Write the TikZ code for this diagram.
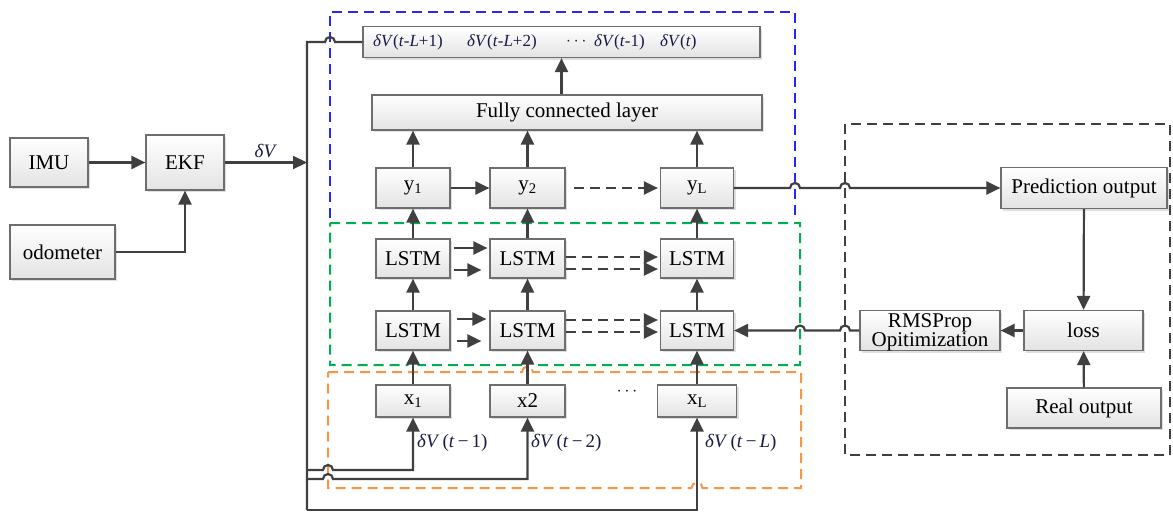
\documentclass[tikz,border=0pt]{standalone}
\usepackage{fontspec}
\setmainfont{Liberation Serif}
\usetikzlibrary{arrows.meta, shadows, calc}
\definecolor{lineclr}{RGB}{64,64,64}
\definecolor{boxclr}{RGB}{110,110,110}
\definecolor{frameblue}{RGB}{40,40,245}
\definecolor{framegreen}{RGB}{0,176,80}
\definecolor{frameorange}{RGB}{247,150,70}
\definecolor{labelclr}{RGB}{25,25,70}

\begin{document}
\begin{tikzpicture}[x=1pt, y=1pt,
        box/.style={rectangle, draw=boxclr, line width=1.2pt, top color=white, bottom color=gray!22, inner sep=0pt, font=\fontsize{21}{24}\selectfont, drop shadow={opacity=0.25, shadow xshift=2pt, shadow yshift=-2pt}},
        arrow/.style={-{Triangle[length=14pt, width=13pt]}, draw=lineclr, line width=2.2pt},
        dasharrow/.style={arrow, dash pattern=on 10pt off 6pt},
        link/.style={draw=lineclr, line width=2.2pt},
        frame/.style={line width=2pt, dash pattern=on 10pt off 6pt},
        dvlabel/.style={font=\fontsize{17}{20}\selectfont, text=labelclr, inner sep=0pt}
    ]
        \useasboundingbox (0,0) rectangle (1173,-512);

        % dashed frames
        \draw[frame, frameblue] (330,-218) -- (330,-12) -- (795,-12) -- (795,-218);
        \draw[frame, framegreen] (330,-223) -- (800,-223) -- (800,-365) -- (533,-365) arc[start angle=0, end angle=180, radius=5.5] -- (418.5,-365) arc[start angle=0, end angle=180, radius=5.5] -- (330,-365) -- cycle;
        \draw[frame, frameorange] (328,-372) -- (522,-372) arc[start angle=180, end angle=0, radius=5.5] -- (801,-372) -- (801,-488) -- (702.5,-488) arc[start angle=0, end angle=180, radius=5.5] -- (328,-488) -- cycle;
        \draw[frame, lineclr] (845,-124) rectangle (1170,-455);

        % EKF front end
        \node[box, minimum width=78, minimum height=49] (imu) at (49,-162.5) {IMU};
        \node[box, minimum width=78, minimum height=55] (ekf) at (185,-162.5) {EKF};
        \node[box, minimum width=105, minimum height=54] (odo) at (62.5,-252) {odometer};

        \coordinate (bustop) at (307,-42);
        \coordinate (busbot) at (307,-510);
        \coordinate (b1) at (307,-470);
        \coordinate (b2) at (307,-479);

        \draw[arrow] (imu) -- (ekf);
        \draw[arrow] (odo) -| (ekf);
        \draw[arrow] (ekf.east) -- (ekf.east -| bustop) node[midway, above=4pt, dvlabel, font=\fontsize{19}{22}\selectfont] {\textit{δV}};

        % output sequence
        \node[box, minimum width=397, minimum height=31] (top) at (561.5,-42) {};
        \node[dvlabel, anchor=west] (o1) at (373,-42) {\textit{δV}(\textit{t}-\textit{L}+1)};
        \node[dvlabel, anchor=west] (o2) at (467,-42) {\textit{δV}(\textit{t}-\textit{L}+2)};
        \node[dvlabel, anchor=west] (o3) at (566,-42) {$\cdots$};
        \node[dvlabel, anchor=west] (o4) at (594,-42) {\textit{δV}(\textit{t}-1)};
        \node[dvlabel, anchor=west] (o5) at (660,-42) {\textit{δV}(\textit{t})};

        \node[box, minimum width=390, minimum height=35] (fc) at (567,-112.5) {Fully connected layer};

        % unrolled network
        \node[box, minimum width=74, minimum height=40] (y1) at (413,-188) {y\textsubscript{1}};
        \node[box, minimum width=75, minimum height=40] (y2) at (527.5,-188) {y\textsubscript{2}};
        \node[box, minimum width=73, minimum height=40] (yL) at (697,-188) {y\textsubscript{L}};

        \node[box, minimum width=74, minimum height=39] (la1) at (413,-258.5) {LSTM};
        \node[box, minimum width=75, minimum height=39] (la2) at (527.5,-258.5) {LSTM};
        \node[box, minimum width=73, minimum height=39] (laL) at (697,-258.5) {LSTM};

        \node[box, minimum width=74, minimum height=39] (lb1) at (413,-330.5) {LSTM};
        \node[box, minimum width=75, minimum height=39] (lb2) at (527.5,-330.5) {LSTM};
        \node[box, minimum width=73, minimum height=39] (lbL) at (697,-330.5) {LSTM};

        \node[box, minimum width=74, minimum height=32] (x1) at (413,-401) {x\textsubscript{1}};
        \node[box, minimum width=75, minimum height=32] (x2) at (527.5,-401) {x2};
        \node[box, minimum width=79, minimum height=32] (xL) at (697,-401) {x\textsubscript{L}};
        \node[font=\fontsize{17}{20}\selectfont] (xdots) at (627,-392) {$\cdots$};

        \foreach \c in {1,2,L} {
            \draw[arrow] (x\c) -- (lb\c);
            \draw[arrow] (lb\c) -- (la\c);
            \draw[arrow] (la\c) -- (y\c);
            \draw[arrow] (y\c.north) -- (y\c.north |- fc.south);
        }
        \draw[arrow] (top.south |- fc.north) -- (top.south);

        \draw[arrow] (y1) -- (y2);
        \draw[dasharrow] ([xshift=8]y2.east) -- ([xshift=-2]yL.west);

        \draw[arrow] ([shift={(3,10.5)}]la1.east) -- ([shift={(-2,10.5)}]la2.west);
        \draw[arrow] ([shift={(3,-11.5)}]la1.east) -- ([shift={(-8,-11.5)}]la2.west);
        \draw[dasharrow] ([shift={(0,1.5)}]la2.east) -- ([shift={(-2,1.5)}]laL.west);
        \draw[dasharrow] ([shift={(0,-10.5)}]la2.east) -- ([shift={(-2,-10.5)}]laL.west);

        \draw[arrow] ([shift={(6,11.5)}]lb1.east) -- ([shift={(-3,11.5)}]lb2.west);
        \draw[arrow] ([shift={(6,-10.5)}]lb1.east) -- ([shift={(-8,-10.5)}]lb2.west);
        \draw[dasharrow] ([shift={(0,10.5)}]lb2.east) -- ([shift={(-2,10.5)}]lbL.west);
        \draw[dasharrow] ([shift={(0,-1.5)}]lb2.east) -- ([shift={(-2,-1.5)}]lbL.west);

        % input bus
        \draw[link] (busbot) -- (bustop) -- (325,-42) arc[start angle=180, end angle=0, radius=5] -- (top.west);
        \draw[arrow] (b1) -- (323,-470) arc[start angle=180, end angle=0, radius=5] -| (x1.south);
        \draw[arrow] (b2) -- (323,-479) arc[start angle=180, end angle=0, radius=5] -| (x2.south);
        \draw[arrow] (busbot) -| (xL.south);
        \node[dvlabel, anchor=west, font=\fontsize{19}{22}\selectfont] (d1) at (417,-443) {\textit{δV}\,(\textit{t}\,−\,1)};
        \node[dvlabel, anchor=west, font=\fontsize{19}{22}\selectfont] (d2) at (531,-443) {\textit{δV}\,(\textit{t}\,−\,2)};
        \node[dvlabel, anchor=west, font=\fontsize{19}{22}\selectfont] (dL) at (705,-443) {\textit{δV}\,(\textit{t}\,−\,\textit{L})};

        % training loop
        \node[box, minimum width=166, minimum height=41] (pred) at (1084,-188) {Prediction output};
        \node[box, minimum width=119, minimum height=40] (loss) at (1083.5,-330.5) {loss};
        \node[box, minimum width=154, minimum height=40] (real) at (1084,-408) {Real output};
        \node[box, minimum width=140, minimum height=40] (rms) at (930,-330.5) {\raisebox{-7pt}[0pt][0pt]{\begin{tabular}{@{}c@{}}RMSProp\\[-5pt]Opitimization\end{tabular}}};

        \draw[arrow] (yL.east) -- (790,-188) arc[start angle=180, end angle=0, radius=5] -- (840,-188) arc[start angle=180, end angle=0, radius=5] -- (pred.west);
        \draw[arrow] (pred) -- (loss);
        \draw[arrow] (real) -- (loss);
        \draw[arrow] (loss) -- (rms);
        \draw[arrow] (rms.west) -- (850,-330.5) arc[start angle=0, end angle=180, radius=5] -- (805,-330.5) arc[start angle=0, end angle=180, radius=5] -- (lbL.east);
    \end{tikzpicture}
\end{document}
